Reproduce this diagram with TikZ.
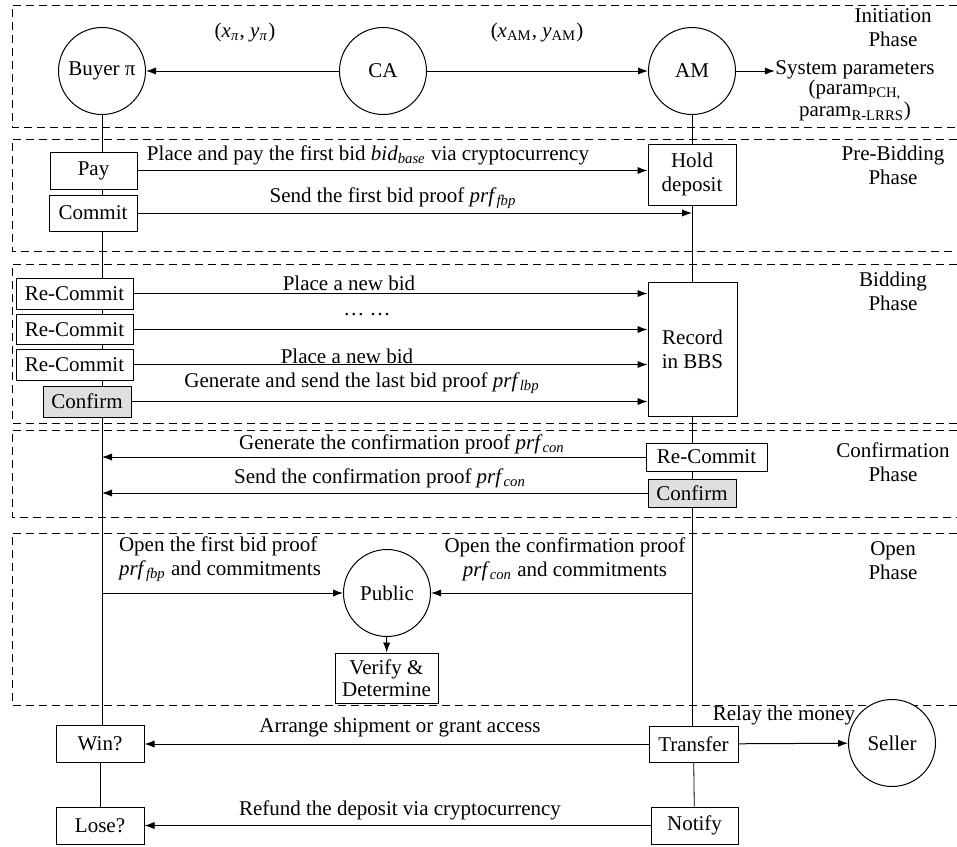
\documentclass[tikz,border=0pt]{standalone}
\usepackage{fontspec}
\setmainfont{Liberation Serif}
\usetikzlibrary{arrows.meta,backgrounds}

\tikzset{
  actor/.style={draw, circle, fill=white, minimum size=43.5pt, inner sep=0pt},
  stepbox/.style={draw, rectangle, fill=white, inner sep=1pt, align=center},
  greybox/.style={stepbox, fill=gray!25},
  phasebox/.style={draw, dash pattern=on 4pt off 2.5pt},
  msg/.style={-{Latex[length=5pt,width=3.6pt]}},
  lbl/.style={inner sep=0pt, align=center},
}

\begin{document}
\begin{tikzpicture}[x=0.5pt, y=-0.5pt, line width=0.5pt, font=\fontsize{10.5}{12}\selectfont]

    \useasboundingbox (0,0) rectangle (957,846);

    % Phases
    \draw[phasebox] (957,5) -- (12,5) -- (12,127) -- (957,127);
    \draw[phasebox] (957,139) -- (12,139) -- (12,251) -- (957,251);
    \draw[phasebox] (957,264) -- (12,264) -- (12,423) -- (957,423);
    \draw[phasebox] (957,430) -- (12,430) -- (12,517) -- (957,517);
    \draw[phasebox] (957,533) -- (12,533) -- (12,705) -- (957,705);

    \node[lbl] (initph) at (893,28) {Initiation\\Phase};
    \node[lbl] (preph) at (893,165) {Pre-Bidding\\Phase};
    \node[lbl] (bidph) at (893,291) {Bidding\\Phase};
    \node[lbl] (confph) at (893,462) {Confirmation\\Phase};
    \node[lbl] (openph) at (893,561) {Open\\Phase};

    % Entities
    \node[actor] (buyer) at (102,71) {Buyer π};
    \node[actor] (ca) at (383,71) {CA};
    \node[actor] (am) at (692,71) {AM};
    \node[lbl, font=\fontsize{10.5}{10}\selectfont] (sysparam) at (855,91)
        {System parameters\\(param\textsubscript{PCH,}\\param\textsubscript{R-LRRS})};
    \node[actor] (public) at (387,593) {Public};
    \node[actor] (seller) at (892,743) {Seller};

    % Pre-bidding
    \node[stepbox, minimum width=43.5pt, minimum height=18.5pt] (pay) at (93.5,170.5) {Pay};
    \node[stepbox, minimum width=44pt, minimum height=18pt] (commit) at (93,213) {Commit};
    \node[stepbox, minimum width=44pt, minimum height=30.5pt] (hold) at (692,174.5) {Hold\\deposit};

    % Bidding
    \node[stepbox, minimum width=58.5pt, minimum height=15.5pt] (rc1) at (74.5,293.5) {Re-Commit};
    \node[stepbox, minimum width=58.5pt, minimum height=15pt] (rc2) at (74.5,329.5) {Re-Commit};
    \node[stepbox, minimum width=58.5pt, minimum height=15.5pt] (rc3) at (74.5,364.5) {Re-Commit};
    \node[greybox, minimum width=44pt, minimum height=15.5pt] (conf1) at (87,401.5) {Confirm};
    \node[stepbox, minimum width=44.5pt, minimum height=67pt] (record) at (692.5,349) {Record\\in BBS};

    % Confirmation
    \node[stepbox, minimum width=60.5pt, minimum height=14pt] (rcam) at (706.5,457) {Re-Commit};
    \node[greybox, minimum width=44pt, minimum height=14pt] (confam) at (692,493) {Confirm};

    % Open
    \node[stepbox, minimum width=51.5pt, minimum height=25pt, inner sep=0.5pt,
          font=\fontsize{10.5}{11}\selectfont] (verify) at (386.5,678) {Verify \&\\Determine};

    % Outcome
    \node[stepbox, minimum width=44pt, minimum height=18.5pt] (win) at (100,743.5) {Win?};
    \node[stepbox, minimum width=44pt, minimum height=18.5pt] (lose) at (100,825.5) {Lose?};
    \node[stepbox, minimum width=44.5pt, minimum height=18pt] (transfer) at (693.5,744) {Transfer};
    \node[stepbox, minimum width=43.5pt, minimum height=18.5pt] (notify) at (694.5,825.5) {Notify};

    % Lifelines
    \begin{scope}[on background layer]
        \draw (buyer) -- (buyer |- win.north);
        \draw (win) -- (lose);
        \draw (am) -- (am |- transfer.north);
        \draw (transfer) -- (notify);
    \end{scope}

    % Arrows
    \draw[msg] (ca) -- (buyer);
    \draw[msg] (ca) -- (am);
    \draw[msg] (am) -- (am -| sysparam.west);
    \draw[msg] (pay.east) -- (pay.east -| hold.west);
    \draw[msg] (commit.east) -- (commit.east -| am);
    \draw[msg] (rc1.east) -- (rc1.east -| record.west);
    \draw[msg] (rc2.east) -- (rc2.east -| record.west);
    \draw[msg] (rc3.east) -- (rc3.east -| record.west);
    \draw[msg] (conf1.east) -- (conf1.east -| record.west);
    \draw[msg] (rcam.west) -- (rcam.west -| buyer);
    \draw[msg] (confam.west) -- (confam.west -| buyer);
    \draw[msg] (public.west -| buyer) -- (public.west);
    \draw[msg] (public.east -| am) -- (public.east);
    \draw[msg] (public) -- (verify);
    \draw[msg] (transfer.west) -- (transfer.west -| win.east);
    \draw[msg] (notify.west) -- (notify.west -| lose.east);
    \draw[msg] (transfer) -- (seller);

    % Labels
    \node[lbl] (kpi) at (245,32) {(\textit{x}\textsubscript{\textit{π}}, \textit{y}\textsubscript{\textit{π}})};
    \node[lbl] (kam) at (537,32) {(\textit{x}\textsubscript{AM}, \textit{y}\textsubscript{AM})};
    \node[lbl] (lpay) at (368,155) {Place and pay the first bid \textit{bid}\textsubscript{\textit{base}} via cryptocurrency};
    \node[lbl] (lfbp) at (393,198) {Send the first bid proof \textit{prf}\textsubscript{\textit{fbp}}};
    \node[lbl] (lnew1) at (349,283) {Place a new bid};
    \node[lbl] (ldots) at (367,315) {… …};
    \node[lbl] (lnew2) at (347,356) {Place a new bid};
    \node[lbl] (llbp) at (362,383) {Generate and send the last bid proof \textit{prf}\textsubscript{\textit{lbp}}};
    \node[lbl] (lgen) at (402,444) {Generate the confirmation proof \textit{prf}\textsubscript{\textit{con}}};
    \node[lbl] (lsend) at (380,478) {Send the confirmation proof \textit{prf}\textsubscript{\textit{con}}};
    \node[lbl, align=left] (lopen1) at (220,559) {Open the first bid proof\\\textit{prf}\textsubscript{\textit{fbp}} and commitments};
    \node[lbl] (lopen2) at (565,559) {Open the confirmation proof\\\textit{prf}\textsubscript{\textit{con}} and commitments};
    \node[lbl] (lship) at (400,727) {Arrange shipment or grant access};
    \node[lbl] (lrefund) at (400,810) {Refund the deposit via cryptocurrency};
    \node[lbl] (lrelay) at (784,715) {Relay the money};

\end{tikzpicture}
\end{document}
